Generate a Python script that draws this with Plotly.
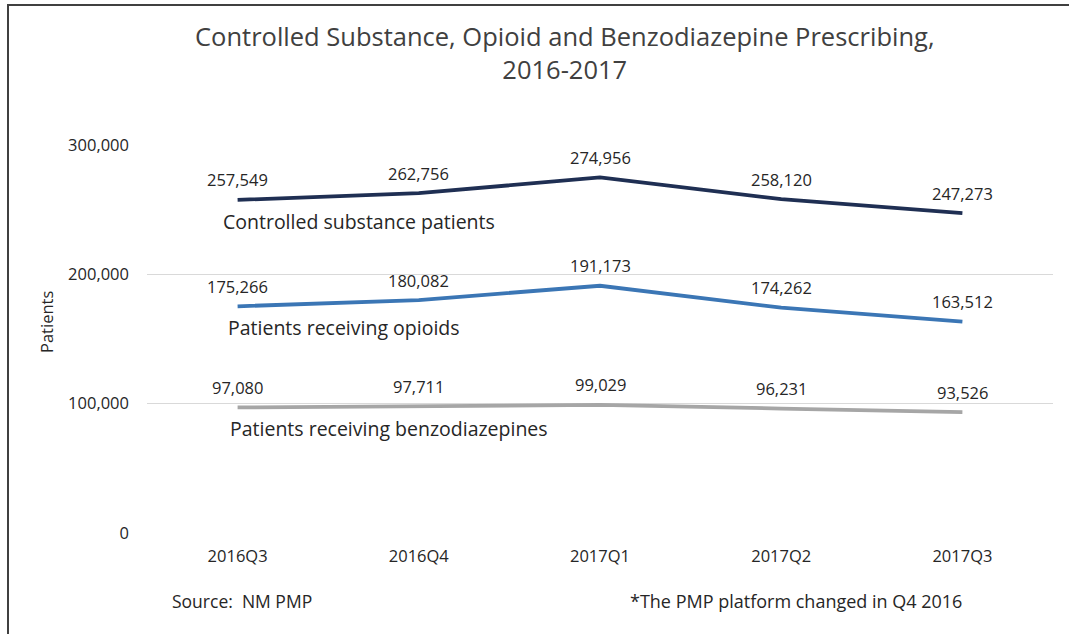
import plotly.graph_objects as go

# Quarterly patient counts
quarters = ["2016Q3", "2016Q4", "2017Q1", "2017Q2", "2017Q3"]
controlled = [257549, 262756, 274956, 258120, 247273]
opioids = [175266, 180082, 191173, 174262, 163512]
benzos = [97080, 97711, 99029, 96231, 93526]

series_names = [
    "Controlled substance patients",
    "Patients receiving opioids",
    "Patients receiving benzodiazepines",
]
y_ticks = [0, 100000, 200000, 300000]

W, H = 1069, 634
L, R, T, B = 147, 16, 145, 101
PW, PH = W - L - R, H - T - B


def px(x):
    return (x - L) / PW


def py(y):
    return (H - B - y) / PH


FONT = "'Open Sans', sans-serif"
TEXT = "#262626"

fig = go.Figure()
styles = [
    (controlled, "#1f2f53"),
    (opioids, "#3b76b5"),
    (benzos, "#a6a6a6"),
]
annotations = []
for (vals, color), name in zip(styles, series_names):
    fig.add_trace(go.Scatter(
        x=quarters, y=vals, name=name,
        mode="lines",
        line=dict(color=color, width=3.8),
        showlegend=False,
    ))
    # value labels above each point
    for q, v in zip(quarters, vals):
        annotations.append(dict(
            x=q, y=v, xref="x", yref="y", text=f"{v:,}",
            showarrow=False, xanchor="center", yanchor="middle", yshift=20,
            font=dict(family=FONT, size=16.5, color=TEXT),
        ))


def note(text, x, y, size, xanchor="left", **kw):
    return dict(text=text, x=px(x), y=py(y), xref="paper", yref="paper",
                xanchor=xanchor, yanchor="middle", showarrow=False,
                font=dict(family=FONT, size=size, color=kw.pop("color", TEXT)), **kw)


annotations += [
    note("Controlled Substance, Opioid and Benzodiazepine Prescribing,<br>2016-2017",
         565, 53, 25.5, xanchor="center", color="#404040", align="center"),
    note(series_names[0], 221, 221, 19.5),
    note(series_names[1], 226, 327, 19.5),
    note(series_names[2], 228, 428, 19.5),
    note("Source:\u00a0\u00a0NM PMP", 170, 601, 17.5),
    note("*The PMP platform changed in Q4 2016", 628, 601, 18),
    note("Patients", 46, 322, 16.5, xanchor="center", textangle=-90),
]

# Outer frame (left and top edges visible within the page)
shapes = [
    dict(type="rect", xref="paper", yref="paper",
         x0=px(8), x1=px(1080), y0=py(650), y1=py(5),
         line=dict(color="#404040", width=2), fillcolor="rgba(0,0,0,0)"),
]

fig.update_layout(
    width=W, height=H,
    margin=dict(l=L, r=R, t=T, b=B, pad=0),
    paper_bgcolor="white", plot_bgcolor="white",
    annotations=annotations, shapes=shapes,
    xaxis=dict(
        type="category", range=[-0.5, 4.5],
        showgrid=False, showline=False, zeroline=False, ticks="",
        tickfont=dict(family=FONT, size=16.5, color=TEXT),
        ticklabelstandoff=11,
    ),
    yaxis=dict(
        range=[0, 300000], tickvals=y_ticks,
        ticktext=[f"{v:,}" for v in y_ticks],
        showgrid=True, gridcolor="#d9d9d9", gridwidth=1,
        zeroline=False, showline=False, ticks="",
        tickfont=dict(family=FONT, size=16.5, color=TEXT),
        ticklabelstandoff=17,
    ),
)

fig.write_html("out.html")
